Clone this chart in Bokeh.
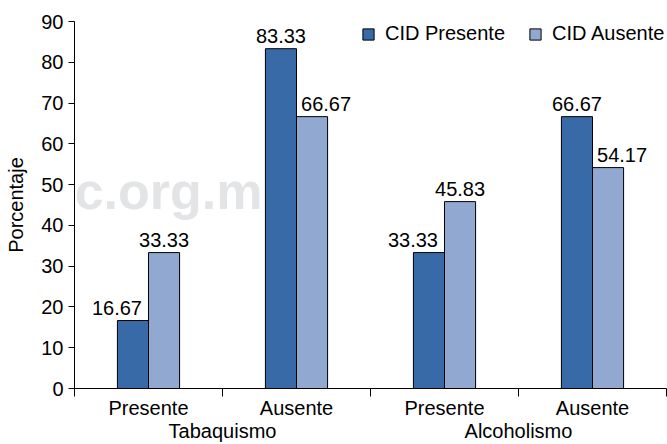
import numpy as np
from bokeh.plotting import figure
from bokeh.models import (Range1d, LinearAxis, FixedTicker, ColumnDataSource,
                          Legend, LegendItem, Label)
from bokeh.core.properties import value
from bokeh.embed import file_html
from bokeh.resources import INLINE

groups = ["Tabaquismo", "Alcoholismo"]
subcats = ["Presente", "Ausente", "Presente", "Ausente"]
cid_presente = [16.67, 83.33, 33.33, 66.67]
cid_ausente = [33.33, 66.67, 45.83, 54.17]
series_names = ["CID Presente", "CID Ausente"]
y_ticks = [0, 10, 20, 30, 40, 50, 60, 70, 80, 90]

FONT = "Liberation Sans"
FS = "20px"
DARK = "#386aa7"
LIGHT = "#91a9d1"

n = len(subcats)
centers = np.arange(n) + 0.5
bw = 0.21
# label of the shorter bar in each pair is pushed outward (as in the original)
pres_dx = [-16 if a < b else 0 for a, b in zip(cid_presente, cid_ausente)]
aus_dx = [14 if b < a else 0 for a, b in zip(cid_presente, cid_ausente)]
src = ColumnDataSource(dict(
    xp=centers - bw / 2,
    xa=centers + bw / 2,
    pres=cid_presente,
    aus=cid_ausente,
    pres_dx=pres_dx,
    aus_dx=aus_dx,
    pres_lbl=["%.2f" % v for v in cid_presente],
    aus_lbl=["%.2f" % v for v in cid_ausente],
))

p = figure(width=667, height=444, x_range=Range1d(0, n), y_range=Range1d(0, 90),
           output_backend="svg", toolbar_location=None,
           x_axis_location=None, min_border_left=74, min_border_right=1,
           min_border_top=21, min_border_bottom=56)
p.outline_line_color = None
p.grid.visible = False
p.background_fill_color = "white"

# watermark (only the part that shows inside the plot area)
p.add_layout(Label(x=188, y=198, x_units="screen", y_units="screen", text="c.org.m",
                   text_font=FONT, text_font_style="bold",
                   text_font_size="52px", text_color="#e3e4e6", text_align="right",
                   text_baseline="middle", level="underlay"))

r1 = p.vbar(x="xp", top="pres", width=bw, source=src,
            fill_color=DARK, line_color="black", line_width=1)
r2 = p.vbar(x="xa", top="aus", width=bw, source=src,
            fill_color=LIGHT, line_color="black", line_width=1)

for xc, col, lbl, dx in [("xp", "pres", "pres_lbl", "pres_dx"), ("xa", "aus", "aus_lbl", "aus_dx")]:
    p.text(x=xc, y=col, text=lbl, source=src, x_offset=dx,
           text_align="center", text_baseline="middle", y_offset=-13,
           text_font=value(FONT), text_font_size=FS, text_color="black")

# y axis
ya = p.yaxis[0]
ya.ticker = FixedTicker(ticks=y_ticks)
ya.axis_label = "Porcentaje"
ya.axis_label_text_font = FONT
ya.axis_label_text_font_size = FS
ya.axis_label_text_font_style = "normal"
ya.axis_label_text_color = "black"
ya.axis_label_standoff = 11
ya.major_label_text_font = FONT
ya.major_label_text_font_size = FS
ya.major_label_text_color = "black"
ya.major_label_standoff = 5
ya.major_tick_in = 0
ya.major_tick_out = 6
ya.minor_tick_line_color = None
ya.axis_line_color = "black"
ya.major_tick_line_color = "black"

# x axis: labels at centres, ticks at category boundaries
xa = LinearAxis(ticker=FixedTicker(ticks=list(centers), minor_ticks=list(range(n + 1))))
xa.major_label_overrides = {float(c): s for c, s in zip(centers, subcats)}
xa.major_tick_line_color = None
xa.major_tick_in = 0
xa.major_tick_out = 8
xa.minor_tick_in = 0
xa.minor_tick_out = 8
xa.minor_tick_line_color = "black"
xa.axis_line_color = "black"
xa.major_label_standoff = 0
xa.major_label_text_font = FONT
xa.major_label_text_font_size = FS
xa.major_label_text_color = "black"
p.add_layout(xa, "below")

# group labels
ga = LinearAxis(ticker=FixedTicker(ticks=[1, 3], minor_ticks=[]))
ga.major_label_overrides = {1: groups[0], 3: groups[1]}
ga.axis_line_color = None
ga.major_tick_line_color = None
ga.minor_tick_line_color = None
ga.major_tick_in = 0
ga.major_tick_out = 0
ga.major_label_standoff = -2
ga.major_label_text_font = FONT
ga.major_label_text_font_size = FS
ga.major_label_text_color = "black"
p.add_layout(ga, "below")

legend = Legend(items=[LegendItem(label=series_names[0], renderers=[r1]),
                       LegendItem(label=series_names[1], renderers=[r2])],
                location=(287, 343), orientation="horizontal",
                margin=0, padding=0, spacing=23, label_standoff=10,
                glyph_width=14, glyph_height=14,
                label_text_font=FONT, label_text_font_size=FS, label_text_color="black",
                border_line_color=None, background_fill_alpha=0)
p.add_layout(legend)

open("out.html", "w").write(file_html(p, INLINE))
